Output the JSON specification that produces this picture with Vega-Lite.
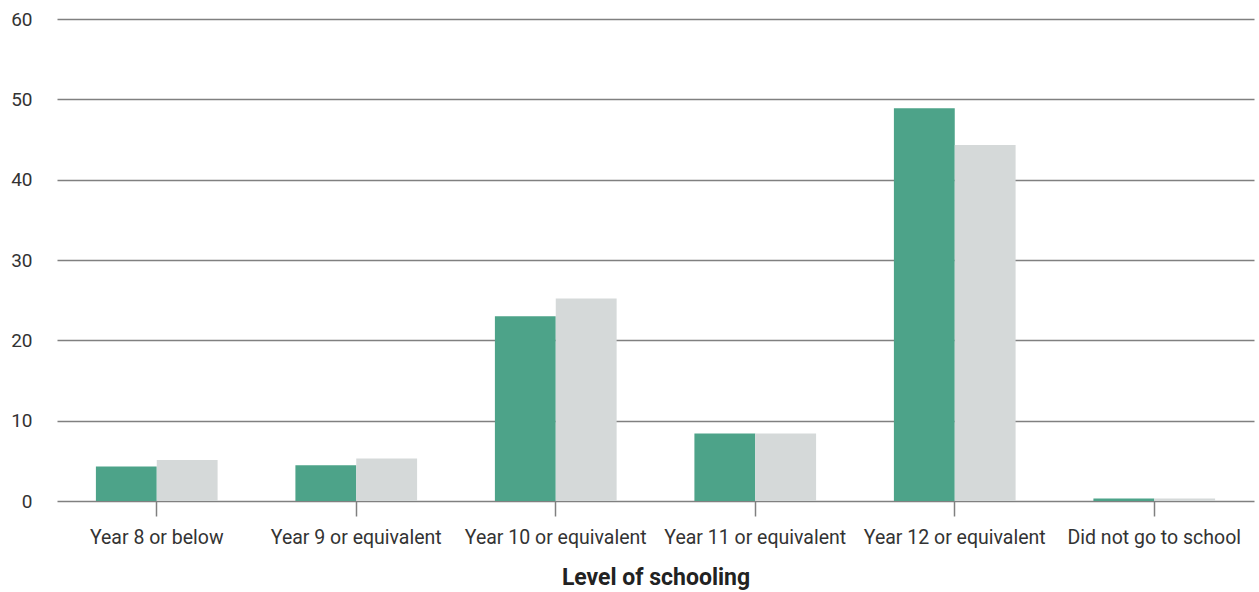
{
  "$schema": "https://vega.github.io/schema/vega-lite/v6.json",
  "width": 1259,
  "height": 592,
  "autosize": {"type": "fit", "contains": "padding"},
  "padding": {"left": 10, "top": 10, "right": 5, "bottom": 2},
  "background": "white",
  "config": {
    "view": {"stroke": null},
    "font": "Roboto"
  },
  "data": {
    "values": [
      {"level": "Year 8 or below", "group": "A", "value": 4.3},
      {"level": "Year 8 or below", "group": "B", "value": 5.1},
      {"level": "Year 9 or equivalent", "group": "A", "value": 4.45},
      {"level": "Year 9 or equivalent", "group": "B", "value": 5.3},
      {"level": "Year 10 or equivalent", "group": "A", "value": 23.0},
      {"level": "Year 10 or equivalent", "group": "B", "value": 25.2},
      {"level": "Year 11 or equivalent", "group": "A", "value": 8.4},
      {"level": "Year 11 or equivalent", "group": "B", "value": 8.4},
      {"level": "Year 12 or equivalent", "group": "A", "value": 48.9},
      {"level": "Year 12 or equivalent", "group": "B", "value": 44.3},
      {"level": "Did not go to school", "group": "A", "value": 0.3},
      {"level": "Did not go to school", "group": "B", "value": 0.3}
    ]
  },
  "mark": {"type": "bar"},
  "encoding": {
    "x": {
      "field": "level",
      "type": "nominal",
      "sort": null,
      "scale": {"paddingInner": 0.39, "paddingOuter": 0.195},
      "axis": {
        "title": "Level of schooling",
        "titleFont": "Roboto",
        "titleFontSize": 23,
        "titleFontWeight": "bold",
        "titleColor": "#222222",
        "titlePadding": 20,
        "labelAngle": 0,
        "labelFontSize": 19.5,
        "labelLimit": 0,
        "labelColor": "#333333",
        "labelPadding": 12,
        "tickSize": 15,
        "tickColor": "#808080",
        "tickWidth": 1.5,
        "domain": false
      }
    },
    "xOffset": {"field": "group", "type": "nominal"},
    "y": {
      "field": "value",
      "type": "quantitative",
      "scale": {"domain": [0, 60]},
      "axis": {
        "title": null,
        "values": [0, 10, 20, 30, 40, 50, 60],
        "labelFontSize": 19,
        "labelColor": "#333333",
        "labelPadding": 25,
        "ticks": false,
        "domain": false,
        "gridColor": "#808080",
        "gridWidth": 1.5,
        "gridOpacity": 1
      }
    },
    "color": {
      "field": "group",
      "type": "nominal",
      "scale": {"domain": ["A", "B"], "range": ["#4DA389", "#D5D9D9"]},
      "legend": null
    }
  }
}
